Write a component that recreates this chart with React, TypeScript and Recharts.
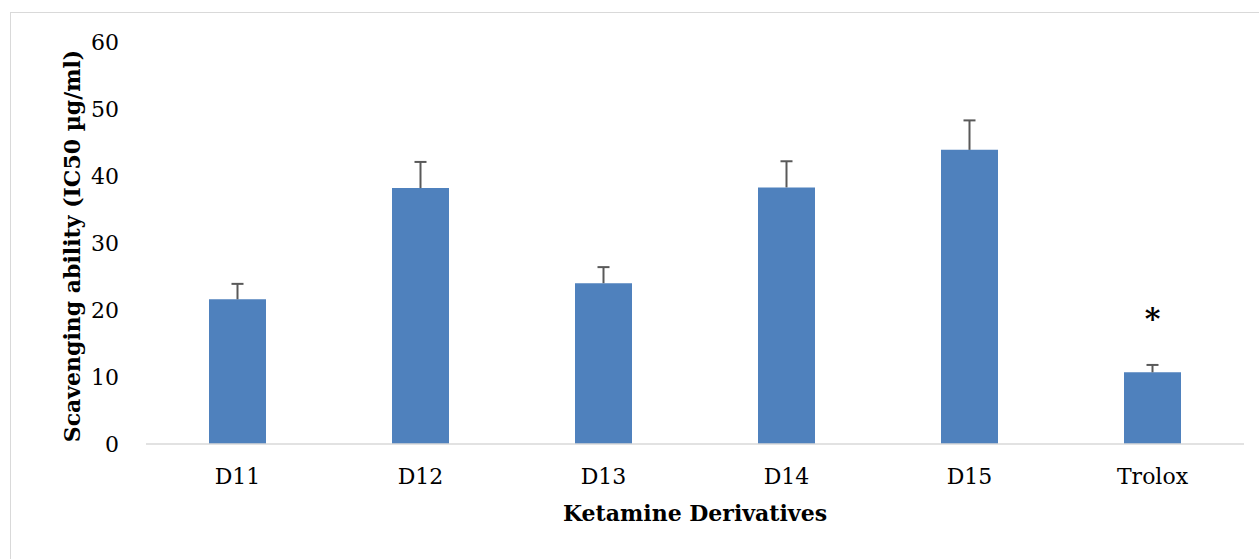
import React from "react";
import { BarChart, Bar, XAxis, YAxis, LabelList } from "recharts";

// IC50 scavenging ability of ketamine derivatives vs. Trolox standard
const categories = ["D11", "D12", "D13", "D14", "D15", "Trolox"];
const ic50 = [21.6, 38.2, 24.0, 38.3, 43.9, 10.7];
const sd = [2.3, 3.9, 2.4, 3.9, 4.4, 1.1];
const significance = ["", "", "", "", "", "*"];
const yTicks = [0, 10, 20, 30, 40, 50, 60];

const data = categories.map((name, i) => ({
  name,
  value: ic50[i],
  err: sd[i],
  sig: significance[i],
}));

const FONT = "'DejaVu Serif', serif";
const BAR_COLOR = "#4f81bd";
const WHISKER = "#595959";

// Transparent stacked segment that draws the upper whisker of the error bar
const Whisker = (props: any) => {
  const { x, y, width, height } = props;
  if (height == null || width == null) return null;
  const cx = x + width / 2;
  return (
    <g>
      <line x1={cx} x2={cx} y1={y + height} y2={y} stroke={WHISKER} strokeWidth={2} />
      <line x1={cx - 6} x2={cx + 6} y1={y} y2={y} stroke={WHISKER} strokeWidth={2} />
    </g>
  );
};

export default function App() {
  return (
    <div style={{ position: "absolute", left: 0, top: 0, width: 1259, height: 559, background: "#fff", overflow: "hidden" }}>
      <div
        style={{
          position: "absolute",
          left: 10,
          top: 12,
          width: 1300,
          height: 600,
          borderLeft: "1.5px solid #d9d9d9",
          borderTop: "1.5px solid #d9d9d9",
        }}
      />
      <div style={{ position: "absolute", left: 0, top: 0 }}>
        <BarChart
          width={1259}
          height={559}
          data={data}
          margin={{ top: 42, right: 15, bottom: 0, left: 0 }}
          barSize={57}
        >
          <XAxis
            dataKey="name"
            axisLine={{ stroke: "#d9d9d9", strokeWidth: 1.5 }}
            tickLine={false}
            tick={{ fill: "#000", fontSize: 22, fontFamily: FONT }}
            tickMargin={18}
            height={115}
            label={{
              value: "Ketamine Derivatives",
              position: "insideTop",
              offset: 61,
              style: { fill: "#000", fontSize: 22, fontWeight: "bold", fontFamily: FONT },
            }}
          />
          <YAxis
            domain={[0, 60]}
            ticks={yTicks}
            axisLine={false}
            tickLine={false}
            width={146}
            tickMargin={21}
            tick={{ fill: "#000", fontSize: 22, fontFamily: FONT }}
            label={{
              value: "Scavenging ability (IC50 µg/ml)",
              angle: -90,
              position: "insideLeft",
              offset: 0,
              dx: 72,
              dy: 3,
              style: { fill: "#000", fontSize: 22, fontWeight: "bold", fontFamily: FONT, textAnchor: "middle" },
            }}
          />
          <Bar dataKey="value" stackId="a" fill={BAR_COLOR} isAnimationActive={false} />
          <Bar dataKey="err" stackId="a" fill="none" shape={<Whisker />} isAnimationActive={false}>
            <LabelList
              dataKey="sig"
              position="top"
              offset={36}
              style={{ fill: "#000", fontSize: 30, fontWeight: "bold", fontFamily: FONT }}
            />
          </Bar>
        </BarChart>
      </div>
    </div>
  );
}
